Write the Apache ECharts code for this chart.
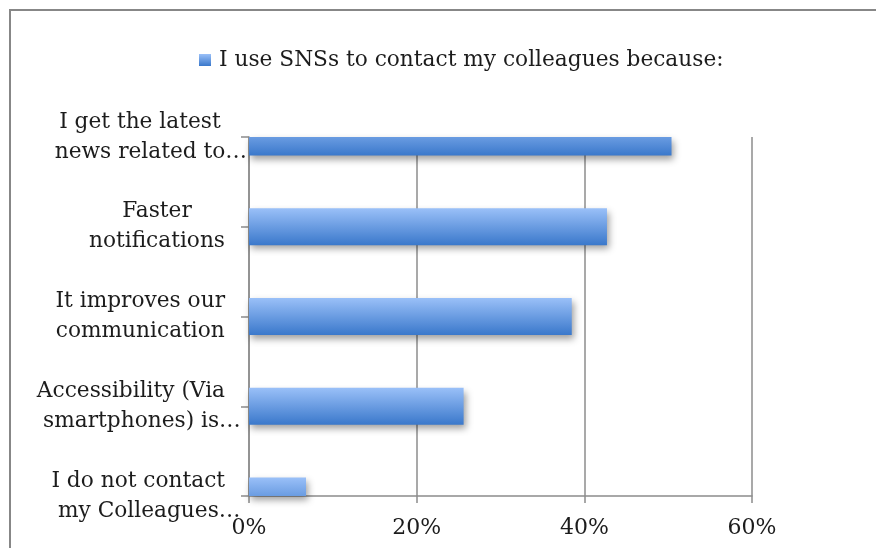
<!DOCTYPE html>
<html>
<head>
<meta charset="utf-8">
<script src="https://cdn.jsdelivr.net/npm/echarts@6/dist/echarts.min.js"></script>
<style>
  html, body { margin: 0; padding: 0; background: #ffffff; }
  #chart { width: 876px; height: 548px; }
</style>
</head>
<body>
<div id="chart"></div>
<script>
// Reasons given for contacting colleagues through social networking sites
const seriesName = 'I use SNSs to contact my colleagues because:';
const categories = [
  'I get the latest\nnews related to…',
  'Faster\nnotifications',
  'It improves our\ncommunication',
  'Accessibility (Via\nsmartphones) is…',
  'I do not contact\nmy Colleagues…'
];
const shares = [50.4, 42.7, 38.5, 25.6, 6.8]; // percent of respondents
const axisTicks = [0, 20, 40, 60];            // percent

const FONT = 'DejaVu Serif';
const LABEL_SIZE = 21.7;
const GRID_GRAY = '#8c8c8c';
const TEXT = '#1c1c1c';
const BAR_TOP = '#9ac0f8';
const BAR_BOTTOM = '#3a78cb';
const BAR_RATIO = 0.412; // bar thickness as a share of the category step

// Width of the ellipsis glyph, so truncated lines are centred as if it were not there
const measureCtx = document.createElement('canvas').getContext('2d');
measureCtx.font = LABEL_SIZE + 'px "' + FONT + '"';
const ELLIPSIS_W = Math.round(measureCtx.measureText('…').width);

function categoryLabel(text) {
  return text.split('\n').map(line => {
    if (line.endsWith('…')) {
      return '{t|' + line.slice(0, -1) + '}{e|…}';
    }
    return '{p|' + line + '}';
  }).join('\n');
}

const lineStyleBase = { fontFamily: FONT, fontSize: LABEL_SIZE, color: TEXT, lineHeight: 30, align: 'center' };

const chart = echarts.init(document.getElementById('chart'), null, { renderer: 'canvas' });

chart.setOption({
  animation: false,
  backgroundColor: '#ffffff',
  graphic: [{
    type: 'rect',
    shape: { x: 10, y: 10, width: 900, height: 600 },
    style: { fill: 'none', stroke: '#878787', lineWidth: 2 },
    silent: true,
    z: 0
  }],
  legend: {
    data: [seriesName],
    left: 194,
    top: 44,
    icon: 'rect',
    itemWidth: 12,
    itemHeight: 12,
    textStyle: { fontFamily: FONT, fontSize: LABEL_SIZE, color: TEXT, padding: [0, 0, 0, 3] }
  },
  grid: { left: 249, top: 137, width: 503, height: 359, containLabel: false },
  xAxis: {
    type: 'value',
    min: axisTicks[0],
    max: axisTicks[axisTicks.length - 1],
    interval: axisTicks[1] - axisTicks[0],
    axisLine: { show: true, lineStyle: { color: GRID_GRAY, width: 1.5 } },
    axisTick: { show: true, length: 7, lineStyle: { color: GRID_GRAY, width: 1.5 } },
    splitLine: { show: true, lineStyle: { color: GRID_GRAY, width: 1.5 } },
    axisLabel: {
      margin: 21,
      fontFamily: FONT,
      fontSize: 22,
      color: TEXT,
      formatter: v => v + '%'
    }
  },
  yAxis: {
    type: 'category',
    data: categories,
    inverse: true,
    boundaryGap: false,
    axisLine: { show: true, lineStyle: { color: GRID_GRAY, width: 1.5 } },
    axisTick: { show: true, length: 8, alignWithLabel: true, lineStyle: { color: GRID_GRAY, width: 1.5 } },
    splitLine: { show: false },
    axisLabel: {
      margin: 2,
      align: 'right',
      formatter: categoryLabel,
      rich: {
        t: Object.assign({}, lineStyleBase),
        e: Object.assign({}, lineStyleBase),
        p: Object.assign({}, lineStyleBase, { padding: [0, ELLIPSIS_W, 0, 0] })
      }
    }
  },
  series: [{
    name: seriesName,
    type: 'custom',
    coordinateSystem: 'cartesian2d',
    encode: { x: 0, y: 1 },
    data: shares.map((v, i) => [v, i]),
    itemStyle: {
      color: new echarts.graphic.LinearGradient(0, 0, 0, 1, [
        { offset: 0, color: BAR_TOP },
        { offset: 1, color: BAR_BOTTOM }
      ])
    },
    renderItem(params, api) {
      const value = api.value(0);
      const idx = api.value(1);
      const start = api.coord([0, idx]);
      const end = api.coord([value, idx]);
      const thickness = api.size([0, 1])[1] * BAR_RATIO;
      const full = {
        x: start[0],
        y: start[1] - thickness / 2,
        width: end[0] - start[0],
        height: thickness
      };
      const cs = params.coordSys;
      const shape = echarts.graphic.clipRectByRect(full, {
        x: cs.x, y: cs.y, width: cs.width, height: cs.height
      });
      if (!shape) return null;
      return {
        type: 'rect',
        shape: shape,
        style: {
          fill: new echarts.graphic.LinearGradient(
            full.x, full.y, full.x, full.y + full.height,
            [{ offset: 0, color: BAR_TOP }, { offset: 1, color: BAR_BOTTOM }],
            true
          ),
          shadowColor: 'rgba(0,0,0,0.38)',
          shadowBlur: 7,
          shadowOffsetX: 2,
          shadowOffsetY: 4
        }
      };
    }
  }]
});
</script>
</body>
</html>
